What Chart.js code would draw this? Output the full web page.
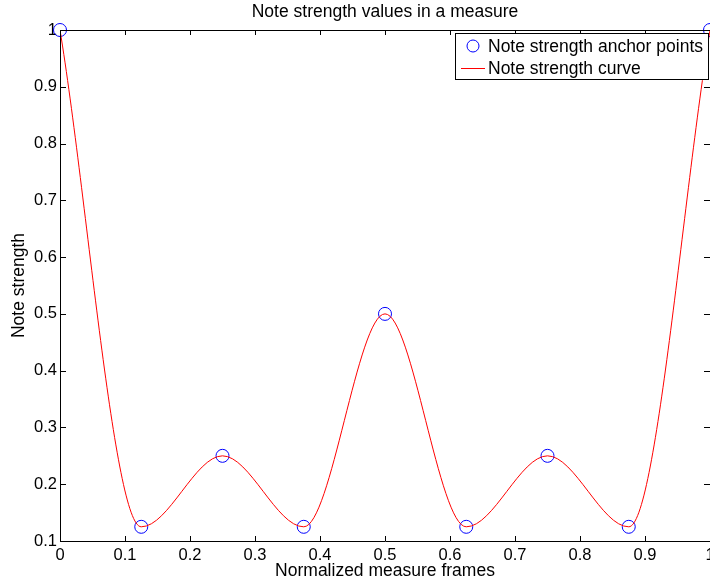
<!DOCTYPE html>
<html>
<head>
<meta charset="utf-8">
<script src="https://cdn.jsdelivr.net/npm/chart.js@4"></script>
<style>
  html, body { margin: 0; padding: 0; background: #fff; overflow: hidden; }
  #wrap { width: 770px; height: 586px; }
</style>
</head>
<body>
<div id="wrap"><canvas id="myChart" width="770" height="586"></canvas></div>
<script>
// anchor points
var anchorX = [0, 0.125, 0.25, 0.375, 0.5, 0.625, 0.75, 0.875, 1];
var anchorY = [1, 0.125, 0.25, 0.125, 0.5, 0.125, 0.25, 0.125, 1];
var xTicks = [0, 0.1, 0.2, 0.3, 0.4, 0.5, 0.6, 0.7, 0.8, 0.9, 1];
var yTicks = [0.1, 0.2, 0.3, 0.4, 0.5, 0.6, 0.7, 0.8, 0.9, 1];

var FONT = 'Liberation Sans, Arial, Helvetica, sans-serif';

function fmt(v) {
	var s = (Math.round(v * 10) / 10).toFixed(1);
	if (s.endsWith('.0')) s = s.slice(0, -2);
	return s;
}

var points = anchorX.map(function(x, i) { return { x: x, y: anchorY[i] }; });

// box round the axes, inward ticks, and the legend drawn inside the plot
var matlabAxes = {
	id: 'matlabAxes',
	afterDatasetsDraw: function(chart) {
		var c = chart.ctx, a = chart.chartArea;
		var xs = chart.scales.x, ys = chart.scales.y;
		c.save();
		c.strokeStyle = '#000';
		c.lineWidth = 1;
		c.beginPath();
		c.rect(Math.round(a.left) + 0.5, Math.round(a.top) + 0.5, Math.round(a.right - a.left), Math.round(a.bottom - a.top));
		xTicks.forEach(function(t) {
			var px = Math.round(xs.getPixelForValue(t)) + 0.5;
			c.moveTo(px, a.bottom); c.lineTo(px, a.bottom - 5);
			c.moveTo(px, a.top); c.lineTo(px, a.top + 5);
		});
		yTicks.forEach(function(t) {
			var py = Math.round(ys.getPixelForValue(t)) + 0.5;
			c.moveTo(a.left, py); c.lineTo(a.left + 6, py);
			c.moveTo(a.right, py); c.lineTo(a.right - 6, py);
		});
		c.stroke();
		c.restore();
	},
	afterDraw: function(chart) {
		var c = chart.ctx;
		var ds = chart.data.datasets;
		var bx = 455.5, by = 33.5, bw = 253, bh = 46;
		c.save();
		c.fillStyle = '#fff';
		c.strokeStyle = '#000';
		c.lineWidth = 1;
		c.fillRect(bx, by, bw, bh);
		c.strokeRect(bx, by, bw, bh);
		c.font = '17.5px ' + FONT;
		c.fillStyle = '#000';
		c.textBaseline = 'middle';
		// row 1: circles
		c.strokeStyle = ds[0].borderColor;
		c.beginPath();
		c.arc(473, 46, 6, 0, Math.PI * 2);
		c.stroke();
		c.fillText(ds[0].label, 488, 47);
		// row 2: line
		c.strokeStyle = ds[1].borderColor;
		c.beginPath();
		c.moveTo(461, 68.5); c.lineTo(485, 68.5);
		c.stroke();
		c.fillText(ds[1].label, 488, 69);
		c.restore();
	}
};

var ctx = document.getElementById('myChart').getContext('2d');
var chart = new Chart(ctx, {
	type: 'scatter',
	data: {
		datasets: [{
			label: 'Note strength anchor points',
			data: points,
			borderColor: '#0000ff',
			backgroundColor: 'rgba(0,0,0,0)',
			pointRadius: 6.5,
			pointBorderWidth: 1,
			showLine: false,
			clip: false,
			order: 2
		}, {
			label: 'Note strength curve',
			data: points,
			borderColor: '#ff0000',
			borderWidth: 1,
			pointRadius: 0,
			showLine: true,
			cubicInterpolationMode: 'monotone',
			order: 1
		}]
	},
	options: {
		responsive: false,
		devicePixelRatio: 1,
		animation: false,
		layout: { padding: { left: 0, right: 60, top: 0, bottom: 0 } },
		plugins: {
			legend: { display: false },
			tooltip: { enabled: false },
			title: {
				display: true,
				fullSize: false,
				text: 'Note strength values in a measure',
				color: '#000',
				font: { family: FONT, size: 17.5, weight: 'normal' },
				padding: { top: 2, bottom: 7 }
			}
		},
		scales: {
			x: {
				type: 'linear',
				min: 0, max: 1,
				afterBuildTicks: function(s) { s.ticks = xTicks.map(function(v) { return { value: v }; }); },
				afterFit: function(s) { s.height = 45; },
				grid: { display: false, drawTicks: false },
				border: { display: false },
				ticks: {
					color: '#000',
					padding: 5,
					maxRotation: 0,
					autoSkip: false,
					font: { family: FONT, size: 16.5 },
					callback: function(v) { return fmt(v); }
				},
				title: {
					display: true,
					text: 'Normalized measure frames',
					color: '#000',
					font: { family: FONT, size: 17.5 },
					padding: { top: 0, bottom: 4 }
				}
			},
			y: {
				type: 'linear',
				min: 0.1, max: 1,
				afterBuildTicks: function(s) { s.ticks = yTicks.map(function(v) { return { value: v }; }); },
				afterFit: function(s) { s.width = 60; },
				grid: { display: false, drawTicks: false },
				border: { display: false },
				ticks: {
					color: '#000',
					padding: 3,
					autoSkip: false,
					font: { family: FONT, size: 16.5 },
					callback: function(v) { return fmt(v); }
				},
				title: {
					display: true,
					text: 'Note strength',
					color: '#000',
					font: { family: FONT, size: 17.5 },
					padding: { top: 9, bottom: 0 }
				}
			}
		}
	},
	plugins: [matlabAxes]
});
</script>
</body>
</html>
